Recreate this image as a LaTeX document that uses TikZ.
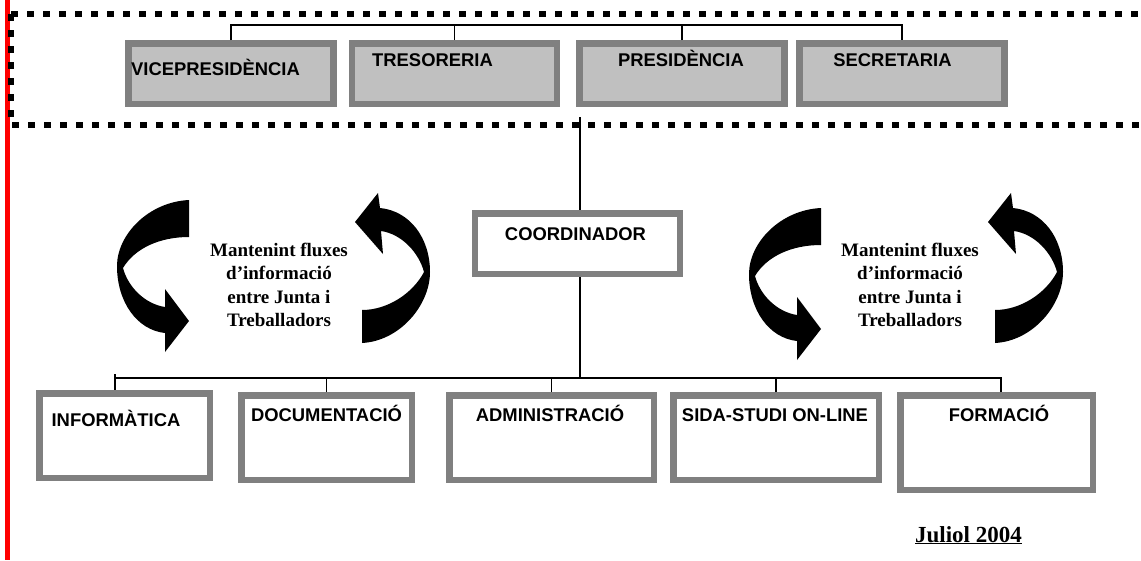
\documentclass[tikz,border=0pt]{standalone}
\usepackage{fontspec}
\setmainfont{Liberation Serif}
\setsansfont{Liberation Sans}
\definecolor{boxgray}{HTML}{808080}
\definecolor{boxfill}{HTML}{C0C0C0}
\tikzset{
  unitbox/.style={draw=boxgray, line width=6.5pt, minimum width=205pt, minimum height=60.5pt, inner sep=0pt},
  topbox/.style={unitbox, fill=boxfill},
  lowbox/.style={draw=boxgray, line width=6.5pt, fill=white, inner sep=0pt, minimum height=84.5pt},
  lbl/.style={font=\sffamily\bfseries\fontsize{18.4}{22}\selectfont, inner sep=0pt, text height=13pt, text depth=0pt},
  flowtxt/.style={font=\bfseries\fontsize{19}{23}\selectfont, inner sep=0pt, anchor=base},
  link/.style={line width=1.5pt},
}
\begin{document}
\begin{tikzpicture}[x=1pt,y=-1pt]
            \useasboundingbox (0,0) rectangle (1141,560);

            % margin line and dotted frame of the board
            \draw[red, line width=5pt] (7.5,0) -- (7.5,560);
            \draw[line width=6.5pt, dash pattern=on 6.5pt off 9.5pt] (11,14) -- (1141,14);
            \draw[line width=6.5pt, dash pattern=on 6.5pt off 9.5pt] (11,14) -- (11,125) -- (1141,125);

            % board
            \node[topbox] (vice) at (231,73.5) {};
            \node[topbox] (treso) at (454.5,73.5) {};
            \node[topbox] (presi) at (682,73.5) {};
            \node[topbox] (secre) at (902,73.5) {};
            \node[lbl, anchor=west] (vicetxt) at (131,69) {VICEPRESIDÈNCIA};
            \node[lbl] (tresotxt) at (432.5,60) {TRESORERIA};
            \node[lbl] (presitxt) at (681,60) {PRESIDÈNCIA};
            \node[lbl] (secretxt) at (892.5,60) {SECRETARIA};

            \coordinate (topbus) at (580,25);
            \draw[link] (vice.north) |- (topbus) -| (secre.north);
            \foreach \b in {treso,presi} \draw[link] (\b.north) -- (\b.north |- topbus);

            % coordinator
            \node[unitbox, fill=white] (coord) at (577.5,243.5) {};
            \node[lbl] (coordtxt) at (575.5,233.5) {COORDINADOR};
            \coordinate (frametap) at (580,117);
            \coordinate (lowbus) at (580,378);
            \draw[link] (frametap) -- (frametap |- coord.north);
            \draw[link] (frametap |- coord.south) -- (lowbus);

            % departments
            \node[lowbox, minimum width=170.5pt] (info) at (124.5,435.5) {};
            \node[lowbox, minimum width=170.5pt] (doc) at (326.5,437.5) {};
            \node[lowbox, minimum width=204.5pt] (admin) at (551.5,437.5) {};
            \node[lowbox, minimum width=205.5pt] (sida) at (776,437.5) {};
            \node[lowbox, minimum width=192.5pt, minimum height=94.5pt] (form) at (996.5,442.5) {};
            \node[lbl] (infotxt) at (116,420) {INFORMÀTICA};
            \node[lbl] (doctxt) at (326.5,415) {DOCUMENTACIÓ};
            \node[lbl] (admintxt) at (550,415) {ADMINISTRACIÓ};
            \node[lbl] (sidatxt) at (775,415) {SIDA-STUDI ON-LINE};
            \node[lbl] (formtxt) at (999,415) {FORMACIÓ};

            \coordinate (infotap) at (115,374);
            \coordinate (formtap) at (1001,378);
            \draw[link] (infotap) -- (infotap |- info.north);
            \draw[link] (infotap |- lowbus) -- (formtap) -- (formtap |- form.north);
            \foreach \b in {doc,admin,sida} \draw[link] (\b.north) -- (\b.north |- lowbus);

            % curved arrows round the two notes
            \foreach \dx/\dy in {0/0,632/8}
                \fill[shift={(\dx,\dy)}] (189,200) .. controls (148,202) and (117,235) .. (117,266)
                    .. controls (117,302) and (137,330) .. (165,333) -- (165,352) -- (189,321) -- (165,289) -- (165,307)
                    .. controls (145,304) and (128,287) .. (123,268)
                    .. controls (135,248) and (160,237) .. (189,237) -- cycle;
            \foreach \dx in {0,633}
                \fill[shift={(\dx,0)}] (362,343) .. controls (400,341) and (430,305) .. (430,272)
                    .. controls (430,238) and (410,211) .. (380,208) -- (378,193) -- (355,222) -- (383,254) -- (381,231)
                    .. controls (402,234) and (419,253) .. (424,272)
                    .. controls (413,293) and (388,310) .. (362,310) -- cycle;

            \foreach \cx in {279,910} {
                \foreach \txt [count=\i] in {Mantenint fluxes, d’informació, entre Junta i, Treballadors} {
                    \node[flowtxt] (flow\cx-\i) at (\cx,{256+23.5*(\i-1)}) {\txt};
                }
            }

            \node[font=\bfseries\fontsize{23}{27}\selectfont, inner sep=0pt, anchor=base] (date) at (968.5,542) {\underline{Juliol 2004}};
        \end{tikzpicture}
\end{document}
